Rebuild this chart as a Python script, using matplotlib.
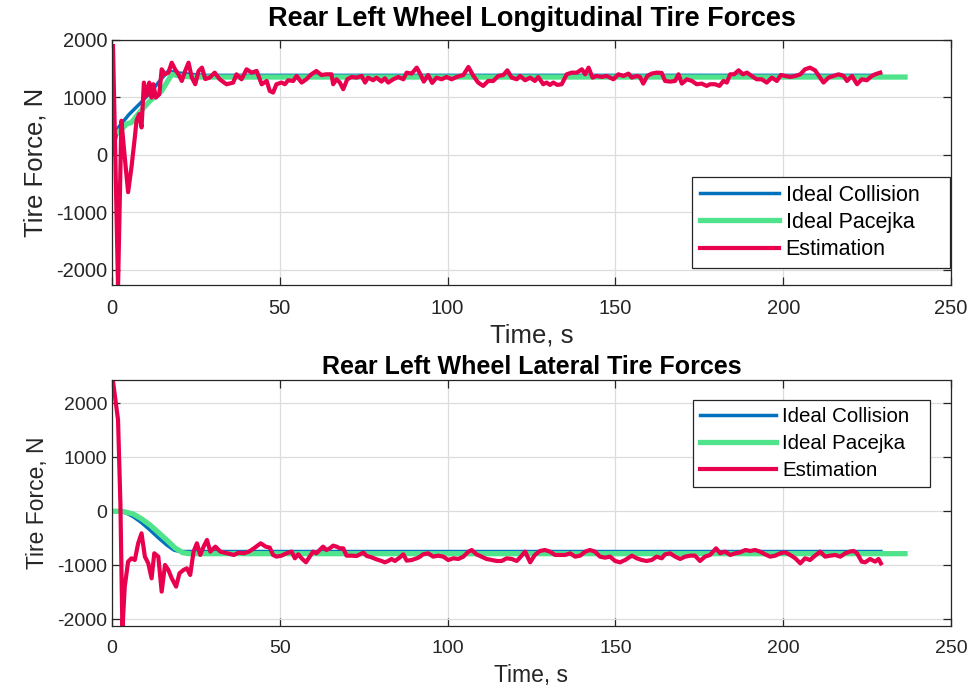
import matplotlib
matplotlib.use("Agg")
import matplotlib.pyplot as plt
import numpy as np

# ---------------- data ----------------
# Top: longitudinal forces
lon_coll_t = [0, 1.8, 5, 9.3, 13, 15.8, 16.8, 19.3, 24, 28, 229.1]
lon_coll_f = [0, 470, 700, 950, 1200, 1400, 1460, 1430, 1400, 1385, 1385]

lon_pac_t = [2.0, 4.3, 5.8, 8.5, 11.3, 14.8, 17.8, 20.3, 24, 236.3]
lon_pac_f = [400, 536, 564, 760, 940, 1114, 1400, 1374, 1355, 1355]

lon_est_t = [0.3, 1.8, 2.8, 3.8, 4.8, 5.8, 6.8, 7.3, 8.1, 8.8, 9.5, 10.3, 11.1, 11.8,
             12.3, 13.1, 14.1, 14.8, 15.8, 16.8, 17.8, 18.8, 19.8, 20.8, 21.8, 22.8,
             23.8, 24.8, 25.8, 26.8, 27.8, 29.1, 30.6, 32.1, 34.1, 36.1, 37.1, 38.6,
             40.1, 41.6, 43.1, 44.6, 46.1,
             47.0, 48.0, 49.0, 50.5, 51.5, 52.5, 54.0, 55.0, 56.5, 57.9, 59.4, 60.9,
             62.4, 63.9, 65.4, 65.9, 66.9, 67.9, 68.9, 70.1, 71.4, 72.9, 74.4, 75.4,
             76.3, 77.8, 78.8, 80.3, 81.3, 82.3, 83.8, 85.3, 86.8, 87.8, 89.3, 90.8,
             91.9, 92.9, 94.2, 95.4, 96.7, 98.2, 99.7, 101.2, 102.7, 104.7, 106.2,
             107.7, 109.1, 110.6, 112.1, 113.6, 115.1, 116.6, 117.8, 119.1, 120.6,
             121.6, 123.1, 124.6, 126.0, 127.0, 128.5, 129.5, 130.5, 131.5, 132.7,
             134.0, 135.5, 137.0, 138.5, 140.0, 141.0, 142.0, 143.2, 144.4, 145.9,
             147.4,
             148.4, 149.4, 150.9, 152.4, 153.9, 154.9, 156.4, 157.3, 158.3, 159.5,
             160.8, 162.3, 163.8, 164.8, 166.3, 167.8, 168.8, 169.8, 171.3, 172.8,
             174.2, 175.7, 177.2, 178.2, 179.7, 181.0, 182.2, 183.2, 184.2, 185.4,
             186.7, 188.0, 189.2, 190.6, 192.1, 193.6, 195.1, 196.6, 198.1, 199.3,
             200.6, 202.1, 203.6, 205.1, 206.5, 208.0, 209.5, 211.0, 212.0, 213.5,
             215.0, 216.5, 218.0, 219.0, 220.5, 222.0, 223.4, 224.9, 226.4, 227.4,
             228.9]
lon_est_f = [1894, -2300, 594, -42, -649, -215, 305, 594, 710, 478, 1258, 1027, 1258, 998,
             1230, 998, 1056, 1490, 1403, 1432, 1605, 1490, 1403, 1287, 1461, 1605,
             1345, 1230, 1461, 1519, 1320, 1345, 1432, 1316, 1229, 1258, 1403, 1316,
             1490, 1432, 1461, 1229, 1287,
             1114, 1085, 1230, 1259, 1230, 1299, 1287, 1374, 1259, 1316, 1403, 1461,
             1391, 1403, 1403, 1230, 1316, 1259, 1143, 1316, 1357, 1345, 1374, 1259,
             1345, 1299, 1345, 1276, 1334, 1259, 1316, 1357, 1316, 1432, 1415, 1519,
             1403, 1276, 1391, 1253, 1345, 1316, 1357, 1316, 1357, 1391, 1530,
             1374, 1259, 1201, 1287, 1287, 1374, 1391, 1472, 1345, 1316,
             1374, 1299, 1345, 1287, 1357, 1230, 1259, 1218, 1259, 1218,
             1230, 1403, 1432, 1432, 1490, 1403, 1519, 1345, 1374, 1357,
             1374,
             1345, 1316, 1403, 1374, 1415, 1345, 1374, 1357, 1241, 1374,
             1415, 1432, 1426, 1287, 1276, 1287, 1403, 1241, 1316, 1287,
             1230, 1241, 1201, 1230, 1230, 1201, 1287, 1259, 1403, 1403,
             1472, 1403, 1432, 1374, 1316, 1316, 1259, 1345, 1287, 1391,
             1374, 1357, 1374, 1403, 1490, 1519, 1472, 1345, 1259, 1345,
             1374, 1403, 1374, 1287, 1374, 1230, 1316, 1299, 1374, 1403,
             1432]

# Bottom: lateral forces
lat_coll_t = [0, 2.3, 4.3, 6.3, 8.8, 11.3, 13.8, 16.3, 18.5, 20.2, 229.1]
lat_coll_f = [0, 0, -35, -99, -210, -346, -490, -624, -720, -745, -745]

lat_pac_t = [0, 3.0, 6.3, 8.8, 11.3, 13.8, 16.3, 18.8, 21.2, 23, 236.3]
lat_pac_f = [0, 0, -50, -140, -253, -390, -531, -680, -770, -785, -785]

lat_est_t = [0.0, 1.8, 2.5, 3.1, 3.8, 4.8, 5.8, 6.8, 7.8, 8.8, 9.8, 10.8, 11.8, 12.6,
             13.8, 14.8, 15.8, 16.8, 17.8, 19.1, 20.1, 21.3, 22.3, 23.3, 24.3, 25.3,
             26.3, 27.3, 28.3, 29.3, 30.8, 32.3, 34.3, 36.3, 37.8, 39.3, 40.8, 42.3,
             44.3, 45.8,
             47.0, 48.0, 49.0, 50.5, 52.0, 53.5, 54.5, 55.5, 56.5, 57.8, 58.9, 59.9,
             60.9, 61.9, 62.9, 63.9, 64.9, 65.9, 66.9, 67.9, 68.9, 69.9, 71.4, 72.9,
             73.9, 74.9, 75.9, 77.3, 78.8, 80.3, 81.3, 82.3, 83.3, 84.3, 85.8, 86.8,
             87.8, 89.3, 90.8, 91.8, 92.7, 94.2, 95.7, 97.2, 98.7, 100.2, 101.7, 103.2,
             104.7, 106.2, 107.2, 108.6, 110.1, 111.6, 113.1, 114.6, 116.1, 117.6,
             119.1, 120.6, 121.8, 123.1, 124.6, 126.0, 127.5, 129.0, 130.5, 132.0,
             133.5, 135.0, 136.5, 138.0, 139.5, 141.0, 142.4, 143.9, 145.4, 146.9,
             148.4, 149.9, 151.4, 152.9, 154.9, 156.4, 157.8, 159.3, 160.8, 162.3,
             163.8, 164.8, 166.3, 167.8, 169.3, 170.8, 172.3, 173.7, 175.2, 176.7,
             178.2, 180.0, 181.2, 182.7, 184.2, 185.7, 187.2, 188.7, 190.2, 191.6,
             193.1, 194.6, 196.1, 197.6, 199.1, 200.6, 202.1, 203.6, 205.1, 206.5,
             208.0, 209.5, 211.0, 212.5, 214.0, 215.5, 217.0, 218.5, 219.8, 221.0,
             222.0, 223.4, 224.4, 225.9, 227.4, 228.4, 229.1]
lat_est_f = [2550, 1691, 148, -2200, -1395, -932, -870, -902, -593, -408, -840, -963,
             -1241, -778, -840, -1488, -994, -1087, -1241, -1395, -1148, -1087, -1056,
             -1179, -747, -593, -809, -655, -531, -747, -655, -747, -778, -809, -766,
             -778, -747, -686, -593, -655,
             -673, -809, -840, -822, -778, -747, -871, -797, -871, -945, -840, -747,
             -778, -717, -655, -717, -686, -636, -655, -686, -686, -822, -822, -828,
             -797, -766, -828, -852, -890, -920, -945, -920, -883, -920, -852, -797,
             -914, -902, -871, -840, -797, -778, -840, -822, -840, -902, -871, -883,
             -840, -747, -717, -797, -840, -883, -902, -920, -920, -871,
             -883, -920, -840, -747, -945, -809, -735, -717, -747, -809,
             -809, -809, -778, -840, -822, -747, -717, -747, -840, -859,
             -840, -920, -945, -902, -822, -871, -902, -920, -902, -840,
             -871, -797, -778, -840, -883, -840, -822, -822, -920, -840,
             -809, -686, -778, -747, -809, -778, -760, -717, -735, -717,
             -747, -797, -840, -822, -778, -760, -809, -871, -964, -871,
             -902, -822, -747, -840, -822, -809, -840, -778, -747, -735,
             -778, -933, -945, -883, -933, -883, -964]

xticks = [0, 50, 100, 150, 200, 250]
yticks = [-2000, -1000, 0, 1000, 2000]
labels = ["Ideal Collision", "Ideal Pacejka", "Estimation"]
titles = ["Rear Left Wheel Longitudinal Tire Forces", "Rear Left Wheel Lateral Tire Forces"]

# ---------------- style ----------------
C_BLUE = "#0072BD"
C_GREEN = "#4FE38C"
C_RED = "#E8004F"
DARK = "#262626"
plt.rcParams["font.family"] = ["Liberation Sans", "DejaVu Sans"]
plt.rcParams["axes.unicode_minus"] = False

fig = plt.figure(figsize=(9.73, 6.93), dpi=100)
W, H = 973.0, 693.0
ax1 = fig.add_axes([112 / W, 1 - 285 / H, 839 / W, 245 / H])
ax2 = fig.add_axes([112 / W, 1 - 626 / H, 839 / W, 246 / H])


def style(ax, ylim, tick_fs, lab_fs, title, title_fs, title_pad, xlabpad):
    ax.set_xlim(0, 250)
    ax.set_ylim(*ylim)
    ax.set_xticks(xticks)
    ax.set_yticks(yticks)
    ax.grid(True, color="#DCDCDC", linewidth=0.9)
    ax.set_axisbelow(True)
    for s in ax.spines.values():
        s.set_color(DARK)
        s.set_linewidth(0.9)
    ax.tick_params(direction="in", length=6, width=0.9, colors=DARK,
                   labelsize=tick_fs, top=True, right=True)
    ax.tick_params(axis="x", pad=10)
    ax.tick_params(axis="y", pad=3.5)
    ax.set_xlabel("Time, s", fontsize=lab_fs, color=DARK, labelpad=xlabpad)
    ax.set_ylabel("Tire Force, N", fontsize=lab_fs, color=DARK, labelpad=6)
    ax.set_title(title, fontsize=title_fs, fontweight="bold", pad=title_pad)


def make_legend(ax, x0, y0, w, fs, spacing, loc):
    leg = ax.legend(loc=loc, bbox_to_anchor=(x0, y0, w, 0.0), mode="expand",
                    borderaxespad=0, fontsize=fs, handlelength=3.7, handletextpad=0.3,
                    fancybox=False, framealpha=1, edgecolor=DARK, borderpad=0.35,
                    labelspacing=spacing)
    leg.get_frame().set_linewidth(0.9)
    return leg


# top
ax1.plot(lon_coll_t, lon_coll_f, color=C_BLUE, lw=2.5, label=labels[0])
ax1.plot(lon_pac_t, lon_pac_f, color=C_GREEN, lw=3.8, label=labels[1])
ax1.plot(lon_est_t, lon_est_f, color=C_RED, lw=3.0, label=labels[2])
style(ax1, (-2265, 2000), 14.5, 18.5, titles[0], 19.5, 10, 4)
make_legend(ax1, 0.6913, 0.0694, 0.3075, 15.5, 0.3, "lower left")

# bottom
ax2.plot(lat_coll_t, lat_coll_f, color=C_BLUE, lw=2.5, label=labels[0])
ax2.plot(lat_pac_t, lat_pac_f, color=C_GREEN, lw=3.8, label=labels[1])
ax2.plot(lat_est_t, lat_est_f, color=C_RED, lw=3.0, label=labels[2])
style(ax2, (-2124, 2430), 14, 16.5, titles[1], 18, 4, 5)
make_legend(ax2, 0.6925, 0.9187, 0.2825, 14.8, 0.38, "upper left")

fig.savefig("out.png", dpi=100)
